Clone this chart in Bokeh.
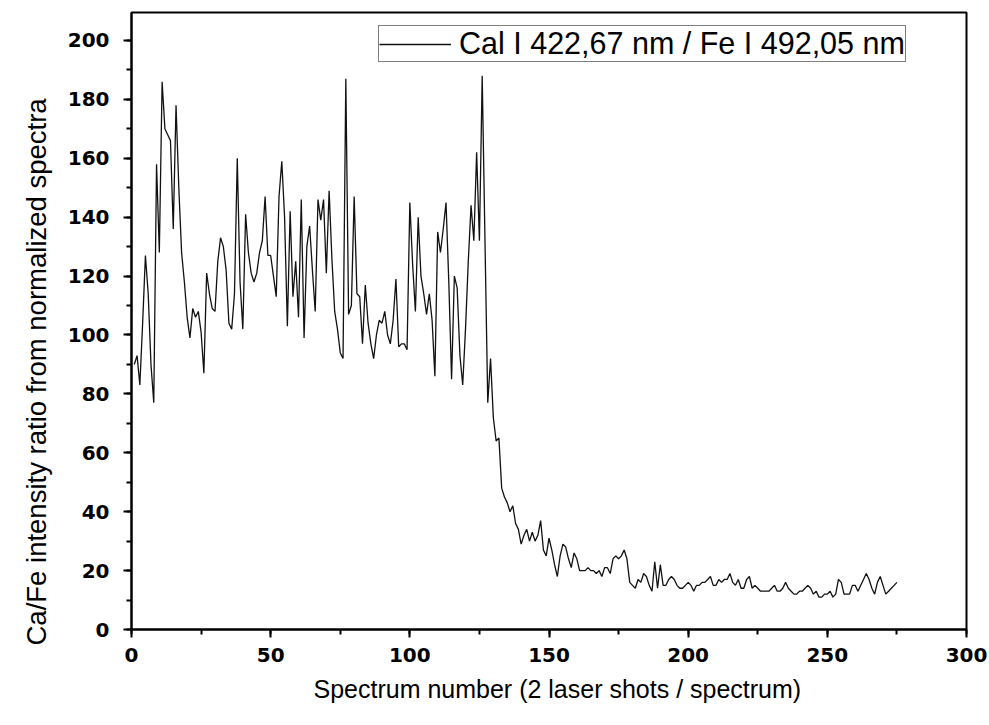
from bokeh.plotting import figure
from bokeh.models import Range1d, SingleIntervalTicker, Legend, LegendItem, Title
from bokeh.embed import file_html
from bokeh.resources import INLINE

# Spectrum index (2 laser shots per spectrum)
spectrum = list(range(1, 276))

# Ca I 422.67 nm / Fe I 492.05 nm intensity ratio, normalized spectra
ratio = [
    90, 93, 83, 104, 127, 114, 90, 77, 158, 128,
    186, 170, 168, 166, 136, 178, 150, 128, 118, 106,
    99, 109, 106, 108, 101, 87, 121, 114, 109, 108,
    125, 133, 130, 122, 104, 102, 114, 160, 118, 102,
    141, 128, 121, 118, 121, 128, 132, 147, 127, 127,
    120, 113, 147, 159, 140, 103, 142, 113, 125, 106,
    146, 99, 130, 137, 122, 108, 146, 139, 146, 121,
    149, 126, 108, 102, 94, 92, 187, 107, 110, 147,
    114, 113, 97, 117, 104, 97, 92, 100, 105, 104,
    108, 100, 97, 105, 119, 96, 97, 97, 95, 145,
    124, 108, 140, 120, 114, 107, 114, 105, 86, 135,
    128, 136, 145, 118, 85, 120, 116, 93, 83, 102,
    125, 144, 132, 162, 132, 188, 132, 77, 92, 72,
    64, 65, 48, 45, 43, 40, 42, 36, 34, 29,
    32, 34, 30, 33, 30, 32, 37, 27, 25, 31,
    27, 22, 18, 25, 29, 28, 24, 21, 26, 24,
    20, 20, 20, 21, 20, 20, 19, 20, 18, 21,
    21, 19, 24, 25, 24, 25, 27, 24, 16, 15,
    14, 17, 16, 19, 18, 15, 13, 23, 14, 22,
    15, 15, 17, 18, 17, 15, 14, 14, 15, 16,
    15, 13, 15, 15, 16, 16, 17, 18, 15, 15,
    17, 16, 17, 17, 19, 16, 15, 17, 14, 14,
    17, 18, 14, 15, 14, 13, 13, 13, 13, 14,
    15, 13, 13, 14, 16, 14, 13, 12, 12, 13,
    13, 14, 15, 14, 12, 13, 11, 11, 12, 12,
    13, 11, 12, 17, 16, 12, 12, 12, 15, 15,
    13, 15, 17, 19, 17, 14, 12, 16, 18, 15,
    12, 13, 14, 15, 16,
]

series_label = "Cal I 422,67 nm / Fe I 492,05 nm"
x_title = "Spectrum number (2 laser shots / spectrum)"
y_title = "Ca/Fe intensity ratio from normalized spectra"

p = figure(
    width=989, height=725,
    output_backend="svg", toolbar_location=None,
    x_range=Range1d(0, 300), y_range=Range1d(0, 209.5),
    min_border_left=131, min_border_right=23,
    min_border_top=12, min_border_bottom=96,
    background_fill_color="white", border_fill_color="white",
)
p.grid.visible = False
p.outline_line_color = "black"
p.outline_line_width = 2

line = p.line(spectrum, ratio, line_color="#111111", line_width=1.3)

p.xaxis.ticker = SingleIntervalTicker(interval=50, num_minor_ticks=2)
p.yaxis.ticker = SingleIntervalTicker(interval=20, num_minor_ticks=2)

for ax in (p.xaxis[0], p.yaxis[0]):
    ax.axis_line_color = "black"
    ax.axis_line_width = 2
    ax.major_tick_line_color = "black"
    ax.major_tick_line_width = 2
    ax.minor_tick_line_color = "black"
    ax.minor_tick_line_width = 2
    ax.major_tick_in = 0
    ax.major_tick_out = 8
    ax.minor_tick_in = 0
    ax.minor_tick_out = 5
    ax.major_label_text_font = "DejaVu Sans"
    ax.major_label_text_font_style = "bold"
    ax.major_label_text_font_size = "20px"
    ax.major_label_text_color = "black"

p.xaxis.major_label_standoff = 10
p.yaxis.major_label_standoff = 14

# Axis titles as side-panel titles, so they can be shifted along their axis
title_font = "Liberation Sans"
p.add_layout(Title(
    text=x_title, text_font=title_font, text_font_size="25px",
    text_font_style="normal", text_color="black",
    align="left", offset=182, standoff=16,
), "below")
p.add_layout(Title(
    text=y_title, text_font=title_font, text_font_size="27.5px",
    text_font_style="normal", text_color="black",
    align="left", offset=-16, standoff=26,
), "left")

legend = Legend(
    items=[LegendItem(label=series_label, renderers=[line])],
    location=(247, 567),
    orientation="vertical",
    border_line_color="black",
    border_line_width=1,
    background_fill_color="white",
    background_fill_alpha=1.0,
    padding=0,
    margin=0,
    spacing=0,
    glyph_width=72,
    glyph_height=26,
    label_standoff=8,
    label_text_font="Liberation Sans",
    label_text_font_size="30.5px",
    label_text_color="black",
)
p.add_layout(legend)

open("out.html", "w").write(file_html(p, INLINE))
